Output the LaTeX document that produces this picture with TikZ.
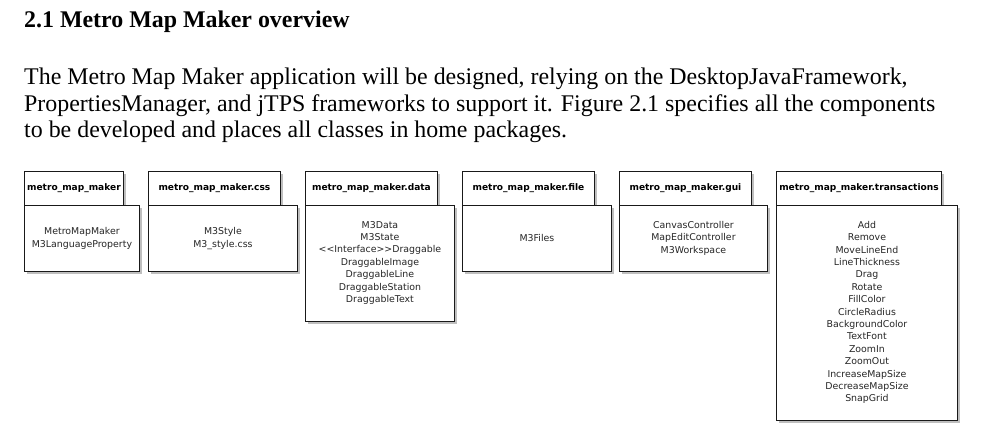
\documentclass[tikz,border=0pt]{standalone}
\usepackage{fontspec}
\setmainfont{Liberation Serif}
\newfontfamily\umlfont{DejaVu Sans}
\usetikzlibrary{shadows}
\begin{document}
\begin{tikzpicture}[x=1pt,y=-1pt,
  pkgshadow/.style={general shadow={shadow xshift=2.5pt,shadow yshift=-2.5pt,fill=black!25,draw=none}},
  pkgframe/.style={draw=black!90,line width=0.9pt,fill=white,pkgshadow,inner sep=0pt,anchor=north west},
  pkgtab/.style={pkgframe,font=\umlfont\bfseries\fontsize{9.05}{10}\selectfont,minimum height=34pt},
  pkgbody/.style={pkgframe,minimum width=#1},
  classes/.style={font=\umlfont\fontsize{9.4}{12.4}\selectfont,align=center,inner sep=0pt,text=black!85},
  heading/.style={font=\bfseries\fontsize{23.9}{26}\selectfont,anchor=base west,inner sep=0pt},
  para/.style={font=\fontsize{23.9}{27}\selectfont,anchor=base west,inner sep=0pt}
]
\useasboundingbox (0,0) rectangle (984,443);

% section heading and introductory paragraph
\node[heading] (title) at (24,28) {2.1 Metro Map Maker overview};
\node[para] (l1) at (24,85) {The Metro Map Maker application will be designed, relying on the DesktopJavaFramework,};
\node[para] (l2) at (24,111.5) {PropertiesManager, and jTPS frameworks to support it. Figure 2.1 specifies all the components};
\node[para] (l3) at (24,138) {to be developed and places all classes in home packages.};

% package metro_map_maker
\node[pkgtab,minimum width=99pt] (t1) at (24,171) {metro\_map\_maker};
\node[pkgbody=115pt,minimum height=66pt] (b1) at (24,205) {};
\node[classes] (c1) at (b1.center) {MetroMapMaker\\M3LanguageProperty};

% package metro_map_maker.css
\node[pkgtab,minimum width=132pt] (t2) at (148,171) {metro\_map\_maker.css};
\node[pkgbody=149pt,minimum height=66pt] (b2) at (148,205) {};
\node[classes] (c2) at (b2.center) {M3Style\\M3\_style.css};

% package metro_map_maker.data
\node[pkgtab,minimum width=132pt] (t3) at (305,171) {metro\_map\_maker.data};
\node[pkgbody=149pt,minimum height=116pt] (b3) at (305,205) {};
\node[classes,anchor=north] (c3) at ([yshift=-16pt]b3.north) {M3Data\\M3State\\<{}<Interface>{}>Draggable\\DraggableImage\\DraggableLine\\DraggableStation\\DraggableText};

% package metro_map_maker.file
\node[pkgtab,minimum width=132pt] (t4) at (462,171) {metro\_map\_maker.file};
\node[pkgbody=149pt,minimum height=66pt] (b4) at (462,205) {};
\node[classes] (c4) at (b4.center) {M3Files};

% package metro_map_maker.gui
\node[pkgtab,minimum width=132pt] (t5) at (619,171) {metro\_map\_maker.gui};
\node[pkgbody=148pt,minimum height=66pt] (b5) at (619,205) {};
\node[classes,anchor=north] (c5) at ([yshift=-16pt]b5.north) {CanvasController\\MapEditController\\M3Workspace};

% package metro_map_maker.transactions
\node[pkgtab,minimum width=165pt] (t6) at (776,171) {metro\_map\_maker.transactions};
\node[pkgbody=181pt,minimum height=215pt] (b6) at (776,205) {};
\node[classes,anchor=north] (c6) at ([yshift=-16pt]b6.north) {Add\\Remove\\MoveLineEnd\\LineThickness\\Drag\\Rotate\\FillColor\\CircleRadius\\BackgroundColor\\TextFont\\ZoomIn\\ZoomOut\\IncreaseMapSize\\DecreaseMapSize\\SnapGrid};
\end{tikzpicture}
\end{document}
